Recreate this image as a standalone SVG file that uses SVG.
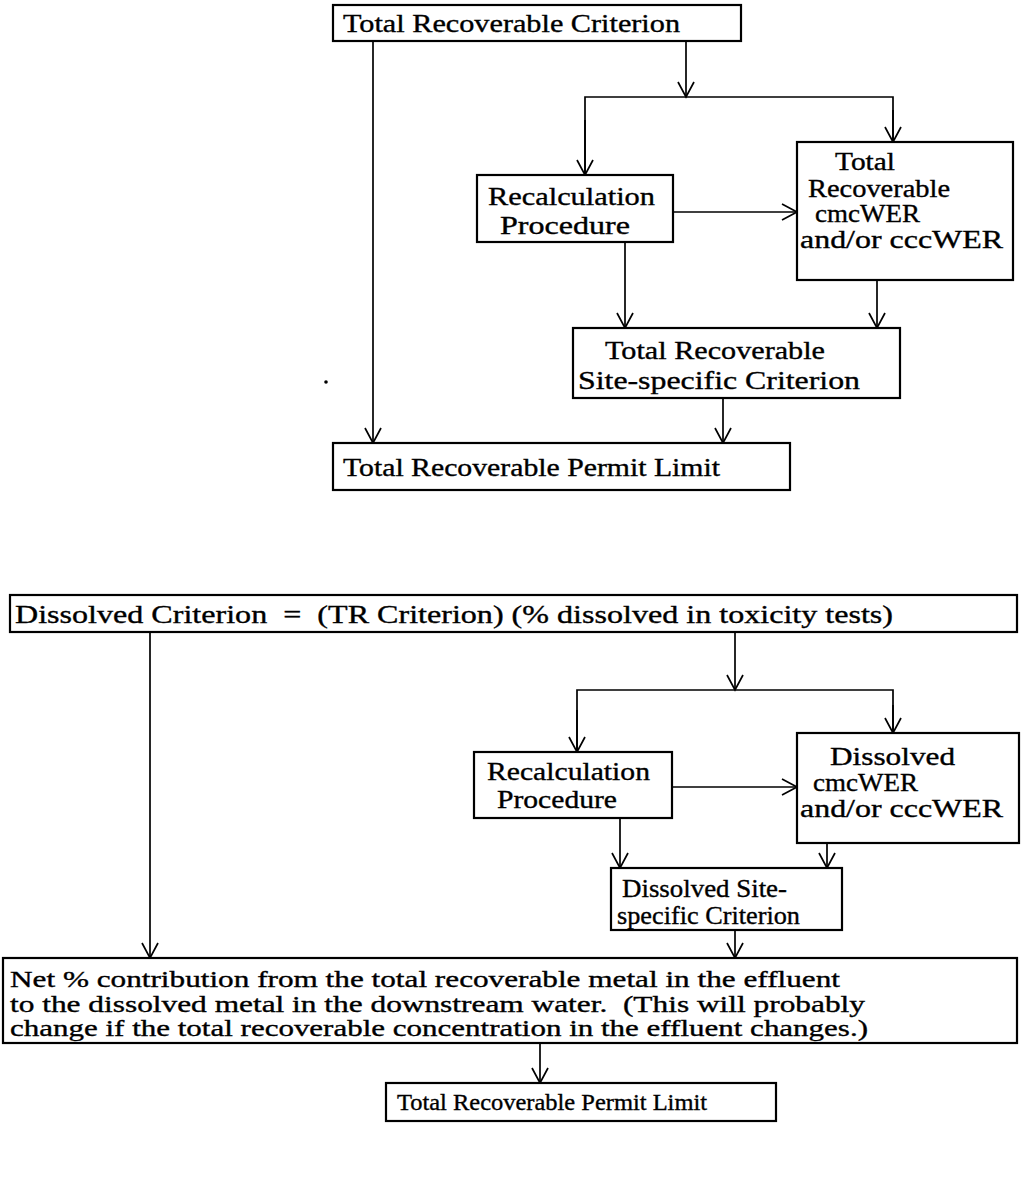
<svg xmlns="http://www.w3.org/2000/svg" width="1021" height="1202" viewBox="0 0 1021 1202">
<style>
.box{fill:#fff;stroke:#000;stroke-width:2.2}
.t{font-family:"Liberation Serif","DejaVu Serif",serif;font-size:25px;fill:#000;stroke:#000;stroke-width:0.35;white-space:pre}
.s{font-size:23px}
.c{fill:none;stroke:#000;stroke-width:1.7}
</style>
<defs>
<marker id="a" markerUnits="userSpaceOnUse" markerWidth="24" markerHeight="24" viewBox="-20 -12 24 24" refX="0" refY="0" orient="auto">
<path d="M-15,-8 L0,0 L-15,8" fill="none" stroke="#000" stroke-width="1.7"/>
</marker>
</defs>
<rect width="1021" height="1202" fill="#fff"/>
<g id="connectors">
<line class="c" x1="373" y1="41" x2="373" y2="443" marker-end="url(#a)"/>
<line class="c" x1="686" y1="41" x2="686" y2="97" marker-end="url(#a)"/>
<polyline class="c" points="585,175 585,97 893,97 893,142"/>
<line class="c" x1="585" y1="120" x2="585" y2="175" marker-end="url(#a)"/>
<line class="c" x1="893" y1="110" x2="893" y2="142" marker-end="url(#a)"/>
<line class="c" x1="673" y1="212" x2="797" y2="212" marker-end="url(#a)"/>
<line class="c" x1="625" y1="242" x2="625" y2="328" marker-end="url(#a)"/>
<line class="c" x1="877" y1="280" x2="877" y2="328" marker-end="url(#a)"/>
<line class="c" x1="723" y1="398" x2="723" y2="443" marker-end="url(#a)"/>
<line class="c" x1="150" y1="632" x2="150" y2="958" marker-end="url(#a)"/>
<line class="c" x1="735" y1="632" x2="735" y2="690" marker-end="url(#a)"/>
<polyline class="c" points="577,752 577,690 893,690 893,733"/>
<line class="c" x1="577" y1="710" x2="577" y2="752" marker-end="url(#a)"/>
<line class="c" x1="893" y1="705" x2="893" y2="733" marker-end="url(#a)"/>
<line class="c" x1="672" y1="787" x2="797" y2="787" marker-end="url(#a)"/>
<line class="c" x1="620" y1="818" x2="620" y2="868" marker-end="url(#a)"/>
<line class="c" x1="827" y1="843" x2="827" y2="868" marker-end="url(#a)"/>
<line class="c" x1="735" y1="930" x2="735" y2="958" marker-end="url(#a)"/>
<line class="c" x1="540" y1="1043" x2="540" y2="1083" marker-end="url(#a)"/>
</g>
<g id="trc">
<rect class="box" x="333" y="5" width="408" height="36"/>
<text class="t" x="343" y="32" textLength="337" lengthAdjust="spacingAndGlyphs">Total Recoverable Criterion</text>
</g>
<g id="recalc1">
<rect class="box" x="477" y="175" width="196" height="67"/>
<text class="t" x="488" y="205" textLength="167" lengthAdjust="spacingAndGlyphs">Recalculation</text>
<text class="t" x="500" y="234" textLength="130" lengthAdjust="spacingAndGlyphs">Procedure</text>
</g>
<g id="trwer">
<rect class="box" x="797" y="142" width="216" height="138"/>
<text class="t" x="835" y="170" textLength="60" lengthAdjust="spacingAndGlyphs">Total</text>
<text class="t" x="808" y="197" textLength="142" lengthAdjust="spacingAndGlyphs">Recoverable</text>
<text class="t" x="815" y="222" textLength="105" lengthAdjust="spacingAndGlyphs">cmcWER</text>
<text class="t" x="800" y="248" textLength="203" lengthAdjust="spacingAndGlyphs">and/or cccWER</text>
</g>
<g id="trsite">
<rect class="box" x="573" y="328" width="327" height="70"/>
<text class="t" x="605" y="359" textLength="220" lengthAdjust="spacingAndGlyphs">Total Recoverable</text>
<text class="t" x="578" y="389" textLength="282" lengthAdjust="spacingAndGlyphs">Site-specific Criterion</text>
</g>
<g id="trpermit1">
<rect class="box" x="333" y="443" width="457" height="47"/>
<text class="t" x="343" y="476" textLength="377" lengthAdjust="spacingAndGlyphs">Total Recoverable Permit Limit</text>
</g>
<circle cx="326" cy="382" r="1.8" fill="#000"/>
<g id="dissolved">
<rect class="box" x="10" y="595" width="1007" height="37"/>
<text class="t" x="15" y="623" textLength="878" lengthAdjust="spacingAndGlyphs">Dissolved Criterion  =  (TR Criterion) (% dissolved in toxicity tests)</text>
</g>
<g id="recalc2">
<rect class="box" x="474" y="752" width="198" height="66"/>
<text class="t" x="487" y="780" textLength="163" lengthAdjust="spacingAndGlyphs">Recalculation</text>
<text class="t" x="497" y="808" textLength="120" lengthAdjust="spacingAndGlyphs">Procedure</text>
</g>
<g id="dwer">
<rect class="box" x="797" y="733" width="222" height="110"/>
<text class="t" x="830" y="765" textLength="125" lengthAdjust="spacingAndGlyphs">Dissolved</text>
<text class="t" x="813" y="791" textLength="105" lengthAdjust="spacingAndGlyphs">cmcWER</text>
<text class="t" x="800" y="817" textLength="203" lengthAdjust="spacingAndGlyphs">and/or cccWER</text>
</g>
<g id="dsite">
<rect class="box" x="611" y="868" width="231" height="62"/>
<text class="t" x="622" y="897" textLength="165" lengthAdjust="spacingAndGlyphs">Dissolved Site-</text>
<text class="t" x="617" y="924" textLength="183" lengthAdjust="spacingAndGlyphs">specific Criterion</text>
</g>
<g id="net">
<rect class="box" x="3" y="958" width="1014" height="85"/>
<text class="t s" x="10" y="987" textLength="830" lengthAdjust="spacingAndGlyphs">Net % contribution from the total recoverable metal in the effluent</text>
<text class="t s" x="10" y="1012" textLength="855" lengthAdjust="spacingAndGlyphs">to the dissolved metal in the downstream water.  (This will probably</text>
<text class="t s" x="10" y="1036" textLength="858" lengthAdjust="spacingAndGlyphs">change if the total recoverable concentration in the effluent changes.)</text>
</g>
<g id="trpermit2">
<rect class="box" x="386" y="1083" width="390" height="38"/>
<text class="t s" x="397" y="1110" textLength="310" lengthAdjust="spacingAndGlyphs">Total Recoverable Permit Limit</text>
</g>
</svg>
